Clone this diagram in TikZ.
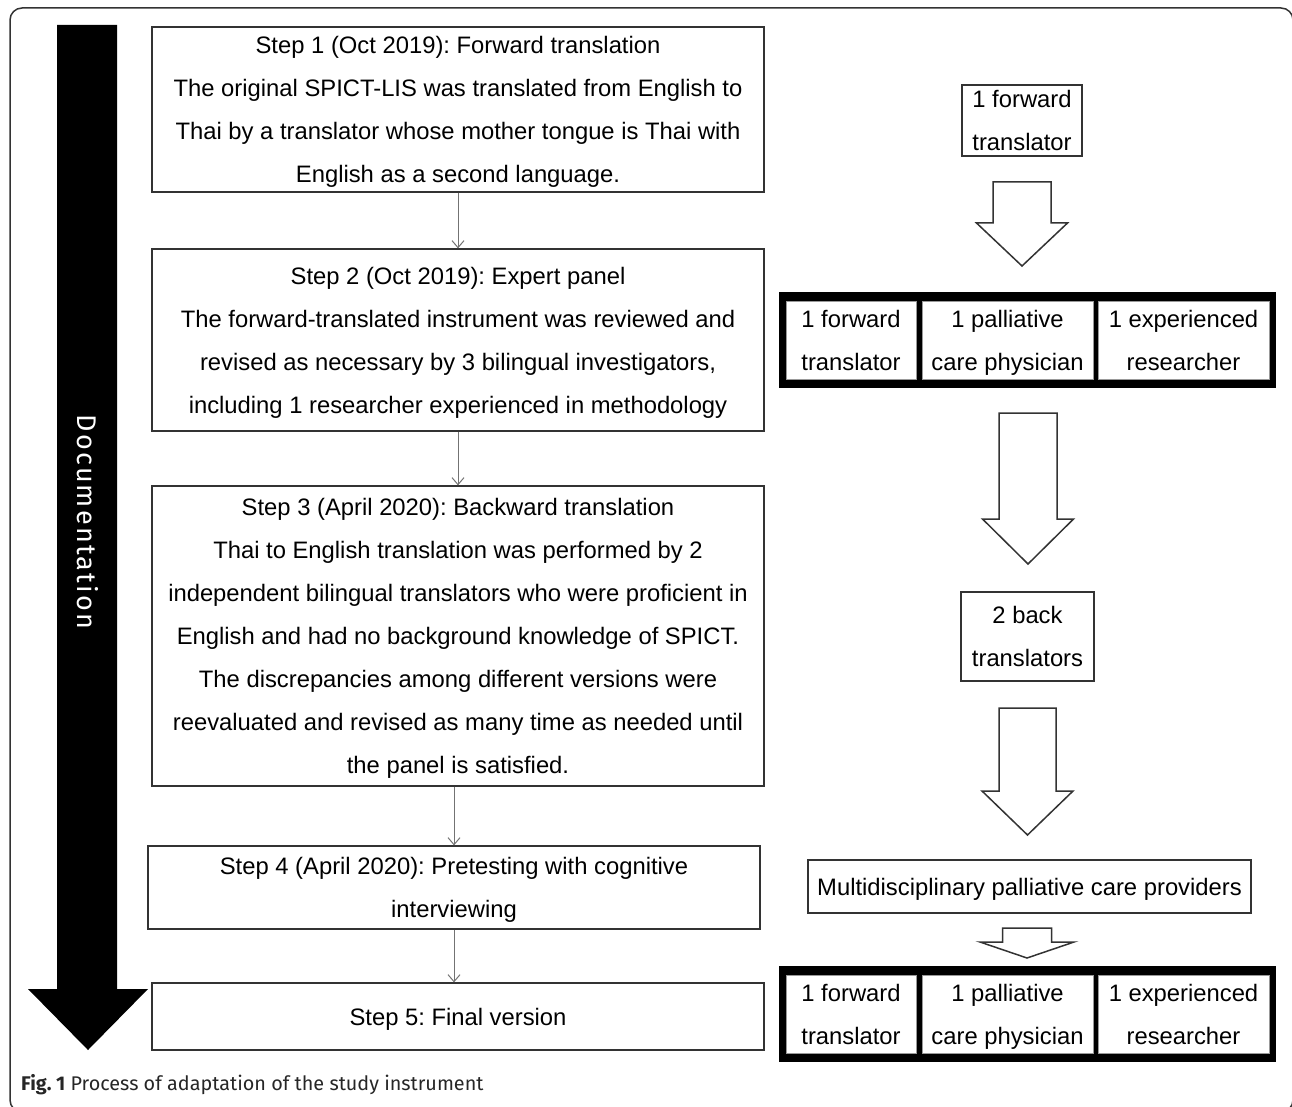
\documentclass[tikz,border=0pt]{standalone}
\usepackage{fontspec}
\setmainfont{Liberation Sans}
\newfontfamily\docfont{Fira Sans}
\newfontfamily\docspaced[LetterSpace=8]{Fira Sans}
\frenchspacing
\usetikzlibrary{
  arrows.meta,
  backgrounds,
  calc,
  fit,
  positioning,
}
\tikzset{
  >={Straight Barb[length=7pt,width=12pt]},
  stepbox/.style={draw=black!80, line width=1.2pt, inner sep=0pt,
    align=center, font=\fontsize{23.8}{43}\selectfont, text depth=0pt},
  whobox/.style={stepbox, fill=white},
  cellbox/.style={whobox, draw=black!40, line width=0.6pt, minimum height=78pt},
  conn/.style={->, draw=black!55, line width=1pt},
  hollow/.style={draw=black!80, line width=1.5pt, fill=white},
}

\begin{document}
\begin{tikzpicture}[x=1pt, y=-1pt]
      \useasboundingbox (0,0) rectangle (1292,1107);
      \draw[black!80, line width=1.5pt, rounded corners=12pt] (10,8) rectangle (1293,1112);

      % documentation arrow
      \fill (57,25) -- (117,25) -- (117,989) -- (148,989) -- (88,1050)
        -- (28,989) -- (57,989) -- cycle;
      \node[rotate=-90, text=white, font=\docspaced\fontsize{27}{30}\selectfont] (doc) at (88,522) {Documentation};

      % steps
      \node[stepbox, minimum width=612pt, minimum height=165pt] (s1) at (458,109.5)
        {Step 1 (Oct 2019): Forward translation\\
         The original SPICT-LIS was translated from English to\\
         Thai by a translator whose mother tongue is Thai with\\
         English as a second language.};
      \node[stepbox, minimum width=612pt, minimum height=182pt] (s2) at (458,340)
        {Step 2 (Oct 2019): Expert panel\\
         The forward-translated instrument was reviewed and\\
         revised as necessary by 3 bilingual investigators,\\
         including 1 researcher experienced in methodology};
      \node[stepbox, minimum width=612pt, minimum height=300pt] (s3) at (458,636)
        {Step 3 (April 2020): Backward translation\\
         Thai to English translation was performed by 2\\
         independent bilingual translators who were proficient in\\
         English and had no background knowledge of SPICT.\\
         The discrepancies among different versions were\\
         reevaluated and revised as many time as needed until\\
         the panel is satisfied.};
      \node[stepbox, minimum width=612pt, minimum height=83pt] (s4) at (454,887.5)
        {Step 4 (April 2020): Pretesting with cognitive\\interviewing};
      \node[stepbox, minimum width=612pt, minimum height=67pt] (s5) at (458,1016.5)
        {Step 5: Final version};

      \draw[conn] (s1) -- (s2);
      \draw[conn] (s2) -- (s3);
      \draw[conn] (s4.north |- s3.south) -- (s4.north);
      \draw[conn] (s4.south) -- (s4.south |- s5.north);

      % people involved
      \node[whobox, minimum width=120pt, minimum height=71pt] (fwd) at (1022,120.5)
        {1 forward\\translator};
      \node[whobox, minimum width=133pt, minimum height=89pt] (back) at (1027.5,636.5)
        {2 back\\translators};
      \node[whobox, minimum width=443pt, minimum height=53pt] (multi) at (1029.5,886.5)
        {Multidisciplinary palliative care providers};

      \foreach \r/\y in {pa/340, pb/1014}
      {
        \node[cellbox, minimum width=130pt] (\r1) at (851,\y) {1 forward\\translator};
        \node[cellbox, minimum width=171pt] (\r2) at (1007.5,\y) {1 palliative\\care physician};
        \node[cellbox, minimum width=171pt] (\r3) at (1183.5,\y) {1 experienced\\researcher};
        \begin{scope}[on background layer]
          \node[fill=black, fit=(\r1)(\r3), inner xsep=7pt, inner ysep=9pt] (\r) {};
        \end{scope}
      }

      % block arrows
      \foreach \c/\s/\h/\t/\b/\p in {1022/29/45.5/182/223/266, 1028/29/45.5/413/519/564,
        1027.5/28.5/45.5/708/791/835, 1027/24.5/47/928/942/958}
      {
        \draw[hollow] (\c-\s,\t) -- (\c+\s,\t) -- (\c+\s,\b) -- (\c+\h,\b) -- (\c,\p)
          -- (\c-\h,\b) -- (\c-\s,\b) -- cycle;
      }

      \node[anchor=base west, inner sep=0pt, text=black!85,
        font=\docfont\fontsize{19.8}{24}\selectfont] (cap) at (21,1090)
        {\textbf{Fig. 1} Process of adaptation of the study instrument};
    \end{tikzpicture}
\end{document}
